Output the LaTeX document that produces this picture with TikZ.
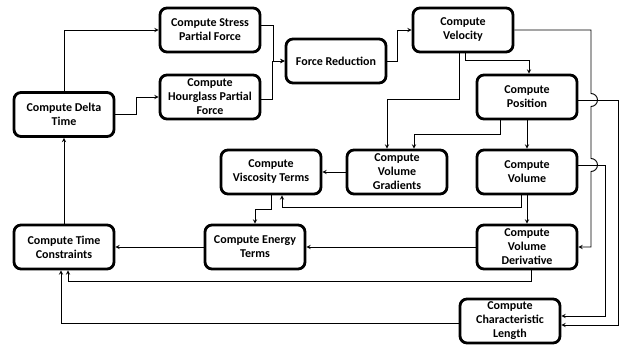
\documentclass[tikz,border=0pt]{standalone}
\usepackage{fontspec}
\setmainfont{Carlito}
\tikzset{
  box/.style={draw, line width=2.8pt, rounded corners=7pt, minimum width=100pt,
    minimum height=44pt, inner sep=1pt, align=center,
    font=\bfseries\fontsize{12}{14}\selectfont},
  link/.style={->, line width=0.9pt}
}
\begin{document}
\begin{tikzpicture}[>=stealth, x=1pt, y=1pt]
\useasboundingbox (0,0) rectangle (621,-346);
\node[box] (dtime) at (64,-114.5) {Compute Delta\\Time};
\node[box] (stress) at (210,-30) {Compute Stress\\Partial Force};
\node[box] (hglass) at (210,-97) {Compute\\Hourglass Partial\\Force};
\node[box] (fred) at (336,-61) {Force Reduction};
\node[box] (vel) at (463,-30) {Compute\\Velocity};
\node[box] (pos) at (527,-97) {Compute\\Position};
\node[box] (visc) at (271,-172) {Compute\\Viscosity Terms};
\node[box] (vgrad) at (397,-172) {Compute\\Volume\\Gradients};
\node[box] (vol) at (527,-172) {Compute\\Volume};
\node[box] (tcons) at (64,-247) {Compute Time\\Constraints};
\node[box] (energy) at (255,-247) {Compute Energy\\Terms};
\node[box] (vder) at (527,-247) {Compute\\Volume\\Derivative};
\node[box] (clen) at (510,-321) {Compute\\Characteristic\\Length};

% top row
\draw[link] (dtime.north) |- (stress.west);
\draw[link] (dtime.east) -- ++(21,0) |- (hglass.west);
\draw[link] ([yshift=5]stress.east) -- ++(12,0) |- (fred.west);
\draw[link] ([yshift=-2]hglass.east) -- ++(11,0) |- (fred.west);
\draw[link] (fred.east) -- ++(10,0) |- (vel.west);
\draw[link] ([xshift=2]vel.south) -- ++(0,-7.5) -| ([xshift=2]pos.north);
\draw[link] ([xshift=-4]vel.south) -- ++(0,-46.5) -| ([xshift=-10]vgrad.north);
\draw[link] ([xshift=-27]pos.south) -- ++(0,-14.5) -| ([xshift=17]vgrad.north);
\draw[link] (pos.south) -- (vol.north);

% middle row
\draw[link] (vgrad.west) -- (visc.east);
\draw[link] ([xshift=-6]vol.south) -- ++(0,-12.5) -| ([xshift=11]visc.south);
\draw[link] (visc.south) -- ++(0,-14) -| (energy.north);
\draw[link] (vol.south) -- (vder.north);

% bottom row
\draw[link] (vder.west) -- (energy.east);
\draw[link] (energy.west) -- (tcons.east);
\draw[link] ([xshift=4]vder.south) -- ++(0,-11.5) -| ([xshift=4]tcons.south);
\draw[link] ([yshift=-2]clen.west) -| ([xshift=-3]tcons.south);
\draw[link] (tcons.north) -- (dtime.south);

% right side rails
\draw[link] ([yshift=-3]pos.east) -- ++(40,0) |- ([yshift=-4]clen.east);
\draw[link] ([yshift=7]vol.east) -- ++(27,0) |- ([yshift=5]clen.east);
\draw[link] (vel.east) -- (591,-30) -- (591,-93.5)
  arc[start angle=90, end angle=-90, radius=6.5] -- (591,-158.5)
  arc[start angle=90, end angle=-90, radius=6.5] |- (vder.east);

\end{tikzpicture}
\end{document}
